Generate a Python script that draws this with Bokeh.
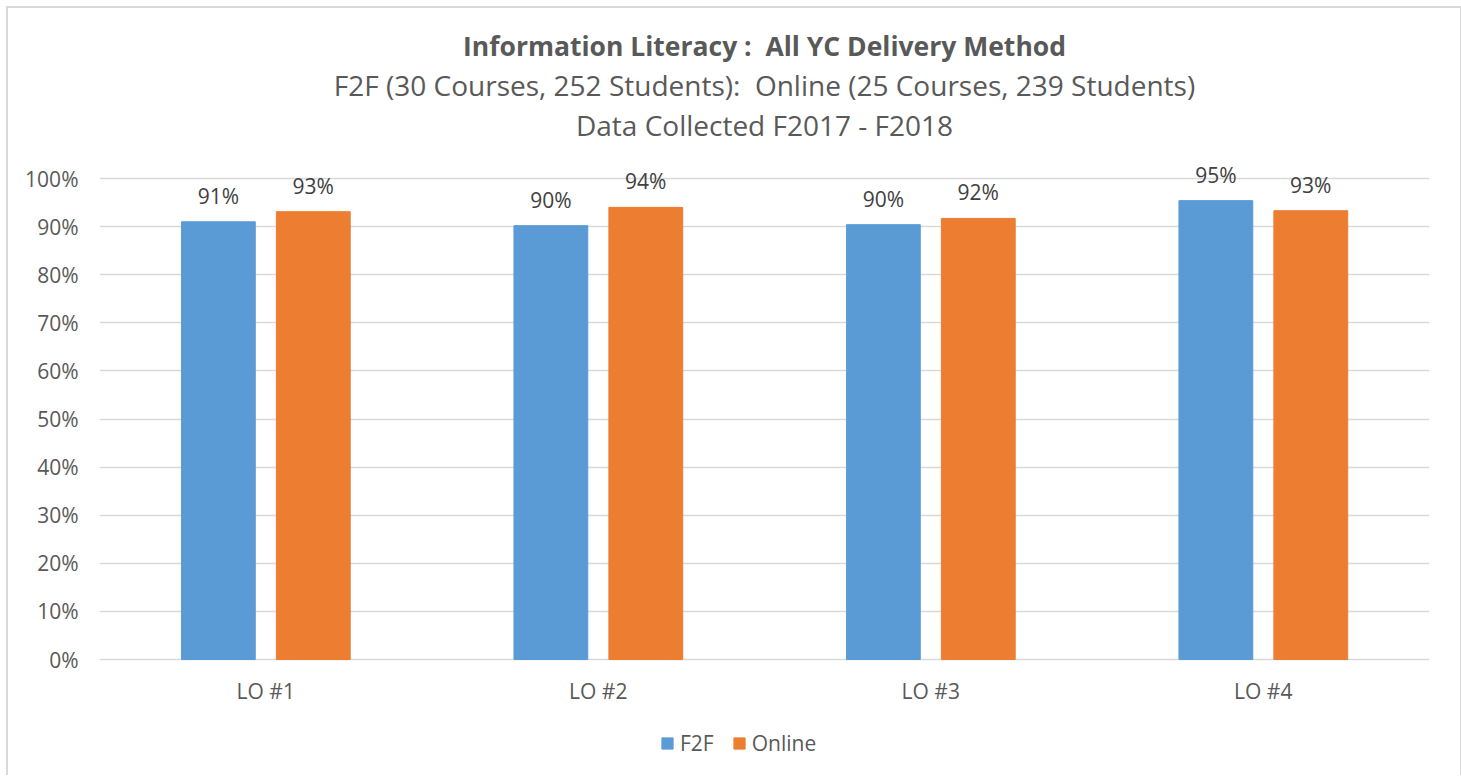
from bokeh.plotting import figure
from bokeh.models import (FactorRange, Range1d, ColumnDataSource, Legend, LegendItem,
                          Title, FixedTicker, NumeralTickFormatter)
from bokeh.transform import dodge
from bokeh.core.properties import value
from bokeh.embed import file_html
from bokeh.resources import INLINE

categories = ["LO #1", "LO #2", "LO #3", "LO #4"]
f2f = [0.91, 0.902, 0.904, 0.954]
online = [0.931, 0.94, 0.917, 0.933]
f2f_labels = ["91%", "90%", "90%", "95%"]
online_labels = ["93%", "94%", "92%", "93%"]
y_ticks = [0.0, 0.1, 0.2, 0.3, 0.4, 0.5, 0.6, 0.7, 0.8, 0.9, 1.0]
title_1 = "Information Literacy :\u00a0 All YC Delivery Method"
title_2 = "F2F (30 Courses, 252 Students):\u00a0 Online (25 Courses, 239 Students)"
title_3 = "Data Collected F2017 - F2018"

FONT = "Open Sans"
BLUE = "#5B9BD5"
ORANGE = "#ED7D31"
GREY = "#595959"

PX = 481.0            # pixels per 100 %
FRAME_H = 632
Y_END = 1 + 35 / PX
Y_START = Y_END - FRAME_H / PX

src = ColumnDataSource(dict(cat=categories, f2f=f2f, online=online,
                            f2f_lab=f2f_labels, online_lab=online_labels))

p = figure(x_range=FactorRange(*categories, range_padding=0),
           y_range=Range1d(Y_START, Y_END),
           x_axis_location=None,
           frame_width=1330, frame_height=FRAME_H,
           output_backend="svg", toolbar_location=None,
           min_border_left=91, min_border_right=31,
           min_border_top=135, min_border_bottom=0,
           styles={"border-left": "2px solid #d9d9d9", "border-top": "2px solid #d9d9d9",
                   "border-right": "2px solid #d9d9d9", "box-sizing": "border-box",
                   "margin-left": "6px", "margin-top": "6px"})
p.outline_line_color = None
p.background_fill_color = "white"

p.ygrid.ticker = FixedTicker(ticks=y_ticks)
p.ygrid.grid_line_color = "#d9d9d9"
p.ygrid.grid_line_width = 1.5
p.xgrid.grid_line_color = None

r1 = p.vbar(x=dodge("cat", -0.1425, range=p.x_range), top="f2f", bottom=0, width=0.222,
            source=src, fill_color=BLUE, line_color=BLUE)
r2 = p.vbar(x=dodge("cat", 0.143, range=p.x_range), top="online", bottom=0, width=0.222,
            source=src, fill_color=ORANGE, line_color=ORANGE)

for off, col, lab in [(-0.1425, "f2f", "f2f_lab"), (0.143, "online", "online_lab")]:
    p.text(x=dodge("cat", off, range=p.x_range), y=col, text=lab, source=src,
           text_align="center", text_baseline="bottom", y_offset=-12,
           text_font=value(FONT), text_font_size="21px", text_color="#404040")

# category labels under the baseline
p.text(x="cat", y=-31 / PX, text="cat", source=src,
       text_align="center", text_baseline="middle",
       text_font=value(FONT), text_font_size="21px", text_color=GREY)

# y axis
p.yaxis.ticker = FixedTicker(ticks=y_ticks)
p.yaxis.formatter = NumeralTickFormatter(format="0%")
p.yaxis.axis_line_color = None
p.yaxis.major_tick_line_color = None
p.yaxis.minor_tick_line_color = None
p.yaxis.major_label_text_font = FONT
p.yaxis.major_label_text_font_size = "21px"
p.yaxis.major_label_text_color = GREY
p.yaxis.major_label_standoff = 15

legend = Legend(items=[LegendItem(label="F2F", renderers=[r1]),
                       LegendItem(label="Online", renderers=[r2])],
                orientation="horizontal", location=(561, 18),
                label_text_font=FONT, label_text_font_size="21px",
                label_text_color=GREY, glyph_width=14, glyph_height=14,
                spacing=18, label_standoff=6, border_line_color=None,
                background_fill_alpha=0, margin=0, padding=0)
p.add_layout(legend, "center")

# titles (first added sits closest to plot)
p.add_layout(Title(text=title_3, align="center", standoff=0,
                   text_font=FONT, text_font_size="28px", text_font_style="normal",
                   text_color=GREY), "above")
p.add_layout(Title(text=title_2, align="center", standoff=0,
                   text_font=FONT, text_font_size="28px",
                   text_font_style="normal", text_color=GREY), "above")
p.add_layout(Title(text=title_1, align="center", standoff=0,
                   text_font=FONT, text_font_size="26.5px", text_font_style="bold",
                   text_color=GREY), "above")

open("out.html", "w").write(file_html(p, INLINE))
